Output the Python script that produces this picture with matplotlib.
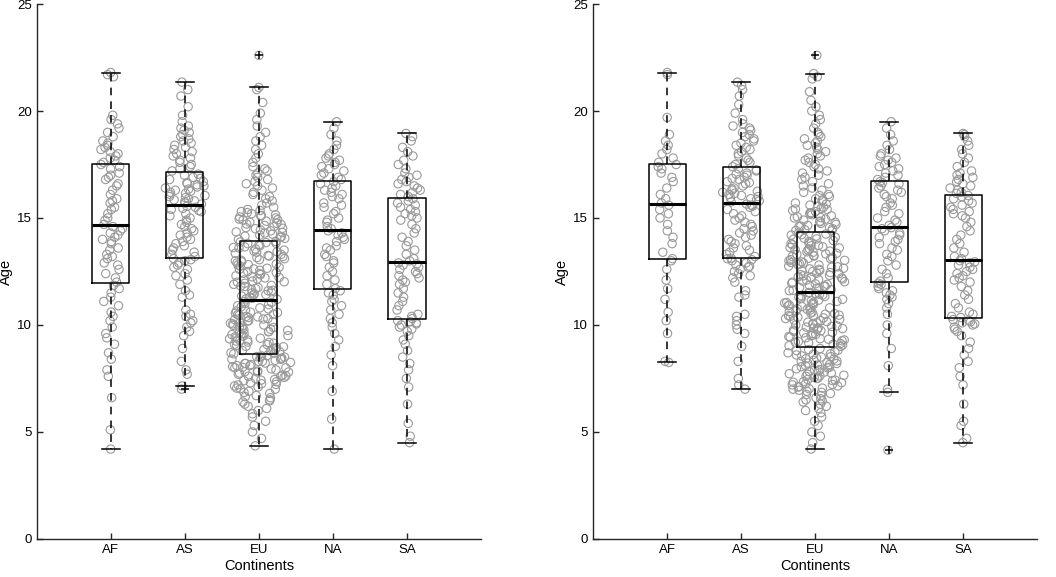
import numpy as np
import matplotlib
matplotlib.use('Agg')
import matplotlib.pyplot as plt

# %%
continents = ['AF', 'AS', 'EU', 'NA', 'SA']

# left panel - ages per continent
left_af = [4.2, 5.1, 6.6, 7.6, 7.9, 8.4, 8.7, 9.1, 9.4, 9.6, 9.9, 10.2, 10.4, 10.6, 10.9, 11.1, 11.3, 11.5, 11.7, 11.85,
           12.0, 12.2, 12.4, 12.6, 12.8, 12.9, 13.1, 13.2, 13.3, 13.5, 13.6, 13.8, 13.9, 14.0, 14.1, 14.2, 14.3, 14.4, 14.5, 14.6,
           14.7, 14.9, 15.0, 15.2, 15.4, 15.5, 15.7, 15.8, 15.9, 16.1, 16.3, 16.5, 16.6, 16.8, 16.9, 17.0, 17.1, 17.3, 17.4, 17.5,
           17.6, 17.7, 17.8, 17.9, 18.0, 18.1, 18.2, 18.3, 18.4, 18.5, 18.6, 18.8, 19.0, 19.2, 19.4, 19.6, 19.8, 21.6, 21.7, 21.8]
left_as = [7.0, 7.15, 7.7, 7.9, 8.3, 8.9, 9.5, 9.7, 9.9, 10.1, 10.2, 10.4, 10.5, 10.7, 11.3, 11.4, 11.6, 11.9, 12.1, 12.3,
           12.4, 12.6, 12.7, 12.8, 12.9, 13.0, 13.05, 13.1,
           13.2, 13.3, 13.4, 13.5, 13.6, 13.7, 13.8, 13.9, 14.0, 14.1, 14.2, 14.3, 14.4, 14.5, 14.6, 14.7, 14.8, 14.9, 15.0, 15.1,
           15.2, 15.3, 15.35, 15.4, 15.45, 15.5, 15.55,
           15.65, 15.7, 15.75, 15.8, 15.85, 15.9, 15.95, 16.0, 16.05, 16.1, 16.15, 16.2, 16.25, 16.3, 16.35, 16.4, 16.45, 16.5,
           16.55, 16.6, 16.65, 16.7, 16.8, 16.85, 16.9, 17.0, 17.05,
           17.2, 17.3, 17.4, 17.5, 17.6, 17.7, 17.8, 17.9, 18.0, 18.1, 18.2, 18.3, 18.4, 18.5, 18.6, 18.7, 18.8, 18.9, 19.0, 19.1,
           19.2, 19.3, 19.5, 19.8, 20.2, 20.7, 21.0, 21.35]
left_eu = [4.35, 4.7, 5.0, 5.3, 5.5, 5.7, 5.85, 6.0, 6.1, 6.2, 6.3, 6.4, 6.45, 6.5, 6.6, 6.65, 6.7, 6.8, 6.85, 6.9,
           7.0, 7.05, 7.1, 7.15, 7.2, 7.25, 7.3, 7.35, 7.4, 7.45, 7.5, 7.55, 7.6, 7.6, 7.65, 7.7, 7.75, 7.8, 7.8, 7.85,
           7.9, 7.95, 8.0, 8.0, 8.05, 8.1, 8.1, 8.15, 8.2, 8.2, 8.25, 8.3, 8.3, 8.35, 8.4, 8.4, 8.45, 8.5, 8.5, 8.55,
           7.02, 7.22, 7.42, 7.62, 7.82, 8.02, 8.22, 8.42, 8.52, 8.57,
           8.65, 8.7, 8.75, 8.8, 8.85, 8.9, 8.95, 9.0, 9.05, 9.1, 9.15, 9.2, 9.25, 9.3, 9.35, 9.4, 9.45, 9.5, 9.55, 9.6,
           9.65, 9.7, 9.75, 9.8, 9.85, 9.9, 9.95, 10.0, 10.05, 10.1, 10.15, 10.2, 10.25, 10.3, 10.35, 10.4, 10.45, 10.5, 10.55, 10.6,
           10.65, 10.7, 10.75, 10.8, 10.85, 10.9, 10.95, 11.0, 11.05, 11.1,
           8.68, 8.88, 9.08, 9.28, 9.48, 9.68, 9.88, 10.08, 10.28, 10.48, 8.78, 8.98, 9.18, 9.38, 9.58, 9.78, 9.98, 10.18, 10.38, 10.58,
           11.2, 11.25, 11.3, 11.35, 11.4, 11.45, 11.5, 11.55, 11.6, 11.65, 11.7, 11.75, 11.8, 11.85, 11.9, 11.95, 12.0, 12.05, 12.1, 12.15,
           12.2, 12.25, 12.3, 12.35, 12.4, 12.45, 12.5, 12.55, 12.6, 12.65, 12.7, 12.75, 12.8, 12.85, 12.9, 12.95, 13.0, 13.05, 13.1, 13.15,
           13.2, 13.25, 13.3, 13.35, 13.4, 13.45, 13.5, 13.55, 13.6, 13.65, 13.7, 13.75, 13.8, 13.85, 13.9,
           11.22, 11.42, 11.62, 11.82, 12.02, 12.22, 12.42, 12.62, 12.82, 13.02, 13.22, 13.42, 13.62, 13.82, 13.88,
           14.0, 14.05, 14.1, 14.15, 14.2, 14.25, 14.3, 14.35, 14.4, 14.45, 14.5, 14.55, 14.6, 14.65, 14.7, 14.75, 14.8, 14.85, 14.9, 14.95,
           15.0, 15.05, 15.1, 15.15, 15.2, 15.25, 15.3, 15.4, 15.5, 15.6, 15.7, 15.8, 15.9, 16.0, 16.1, 16.2, 16.3, 16.4, 16.5, 16.6,
           16.7, 16.8, 16.9, 17.0, 17.1, 17.2, 17.3, 17.4, 17.6, 17.8, 18.0, 18.2, 18.4, 18.6, 18.8, 19.0, 19.3, 19.6, 19.9, 20.4,
           21.0, 21.1, 22.6, 14.12, 14.32, 14.52, 14.72, 14.92, 15.12, 15.35]
left_na = [4.2, 5.6, 6.9, 8.1, 8.6, 9.0, 9.3, 9.6, 9.9, 10.1, 10.3, 10.5, 10.7, 10.9, 11.1, 11.2, 11.4, 11.5, 11.6,
           11.7, 11.9, 12.1, 12.3, 12.5, 12.7, 12.9, 13.0, 13.2, 13.3, 13.5, 13.6, 13.7, 13.9, 14.0, 14.1, 14.2, 14.3, 14.4,
           14.5, 14.6, 14.8, 14.9, 15.0, 15.2, 15.3, 15.5, 15.6, 15.7, 15.9, 16.0, 16.1, 16.2, 16.3, 16.4, 16.5, 16.6, 16.7,
           16.8, 16.9, 17.0, 17.1, 17.2, 17.3, 17.4, 17.5, 17.6, 17.7, 17.8, 17.9, 18.0, 18.2, 18.4, 18.6, 18.9, 19.2, 19.5]
left_sa = [4.5, 4.8, 5.4, 6.3, 7.1, 7.5, 7.9, 8.2, 8.5, 8.8, 9.1, 9.3, 9.5, 9.7, 9.8, 9.9, 10.0, 10.05, 10.1, 10.15, 10.2,
           10.3, 10.4, 10.5, 10.7, 10.9, 11.1, 11.3, 11.5, 11.7, 11.9, 12.0, 12.1, 12.2, 12.3, 12.4, 12.5, 12.6, 12.7, 12.8, 12.85, 12.9,
           13.0, 13.1, 13.3, 13.5, 13.7, 13.9, 14.1, 14.3, 14.5, 14.7, 14.9, 15.0, 15.1, 15.2, 15.3, 15.4, 15.5, 15.6, 15.7, 15.8, 15.9,
           16.0, 16.1, 16.2, 16.3, 16.4, 16.5, 16.6, 16.7, 16.8, 16.9, 17.0, 17.1, 17.3, 17.5, 17.7, 17.9, 18.1, 18.3, 18.6, 18.8, 18.95]

# right panel - ages per continent
right_af = [8.25, 8.3, 9.6, 10.2, 10.6, 11.2, 11.7, 12.1, 12.6, 13.0,
            13.1, 13.4, 13.8, 14.1, 14.4, 14.7, 15.0, 15.2, 15.4, 15.6,
            15.7, 15.9, 16.1, 16.4, 16.7, 16.9, 17.1, 17.3, 17.4, 17.5,
            17.6, 17.8, 18.0, 18.2, 18.4, 18.6, 18.9, 19.7, 21.7, 21.8]
right_as = [7.0, 7.2, 7.5, 8.3, 9.0, 9.6, 9.8, 10.0, 10.2, 10.4, 10.5, 11.3, 11.4, 11.6, 12.0, 12.2, 12.3, 12.4, 12.5, 12.6,
            12.7, 12.75, 12.8, 12.9, 13.0, 13.05, 13.1, 13.12,
            13.2, 13.3, 13.4, 13.5, 13.6, 13.7, 13.8, 13.9, 14.0, 14.1, 14.2, 14.3, 14.4, 14.5, 14.6, 14.7, 14.8, 14.9, 15.0, 15.1,
            15.2, 15.3, 15.4, 15.5, 15.55, 15.6, 15.65,
            15.75, 15.8, 15.85, 15.9, 15.95, 16.0, 16.05, 16.1, 16.15, 16.2, 16.25, 16.3, 16.35, 16.4, 16.5, 16.6, 16.65, 16.7,
            16.8, 16.85, 16.9, 17.0, 17.05, 17.1, 17.2, 17.25, 17.3,
            17.4, 17.5, 17.6, 17.7, 17.8, 17.9, 18.0, 18.1, 18.2, 18.3, 18.4, 18.5, 18.6, 18.7, 18.8, 18.9, 19.0, 19.1, 19.2, 19.3,
            19.4, 19.6, 19.9, 20.3, 20.7, 21.0, 21.2, 21.35]
right_eu = [4.2, 4.5, 4.8, 5.0, 5.3, 5.5, 5.7, 5.9, 6.0, 6.1, 6.2, 6.3, 6.4, 6.5, 6.55, 6.6, 6.7, 6.75, 6.8, 6.9,
            6.95, 7.0, 7.05, 7.1, 7.15, 7.2, 7.25, 7.3, 7.35, 7.4, 7.45, 7.5, 7.55, 7.6, 7.65, 7.7, 7.75, 7.8, 7.85, 7.9,
            7.95, 8.0, 8.05, 8.1, 8.15, 8.2, 8.25, 8.3, 8.35, 8.4, 8.45, 8.5, 8.55, 8.6, 8.65, 8.7, 8.75, 8.8, 8.85, 8.9,
            6.45, 6.85, 7.02, 7.22, 7.42, 7.62, 7.82, 8.02, 8.22, 8.42, 8.62, 8.82, 7.12, 7.32, 7.52, 7.72, 7.92, 8.12, 8.32, 8.52,
            9.0, 9.03, 9.06, 9.1, 9.13, 9.16, 9.2, 9.23, 9.26, 9.3, 9.33, 9.36, 9.4, 9.43, 9.46, 9.5, 9.53, 9.56, 9.6, 9.63,
            9.66, 9.7, 9.73, 9.76, 9.8, 9.83, 9.86, 9.9, 9.93, 9.96, 10.0, 10.03, 10.06, 10.1, 10.13, 10.16, 10.2, 10.23, 10.26, 10.3,
            10.33, 10.36, 10.4, 10.43, 10.46, 10.5, 10.53, 10.56, 10.6, 10.63, 10.66, 10.7, 10.73, 10.76, 10.8, 10.83, 10.86, 10.9, 10.93, 10.96,
            11.0, 11.03, 11.06, 11.1, 11.13, 11.16, 11.2, 11.23, 11.26, 11.3, 11.33, 11.36, 11.4, 11.43, 11.46, 11.5, 11.52, 11.05, 10.45, 9.85,
            11.6, 11.65, 11.7, 11.75, 11.8, 11.85, 11.9, 11.95, 12.0, 12.05, 12.1, 12.15, 12.2, 12.25, 12.3, 12.35, 12.4, 12.45, 12.5, 12.55,
            12.6, 12.65, 12.7, 12.75, 12.8, 12.85, 12.9, 12.95, 13.0, 13.05, 13.1, 13.15, 13.2, 13.25, 13.3, 13.35, 13.4, 13.45, 13.5, 13.55,
            13.6, 13.65, 13.7, 13.75, 13.8, 13.85, 13.9, 13.95, 14.0, 14.05, 14.1, 14.15, 14.2, 14.25, 14.3,
            11.62, 11.82, 12.02, 12.22, 12.42, 12.62, 12.82, 13.02, 13.22, 13.42, 13.62, 13.82, 14.02, 14.22, 11.72, 11.92, 12.12, 12.32,
            12.52, 12.72, 12.92, 13.12, 13.32, 13.52, 13.72,
            14.4, 14.45, 14.5, 14.55, 14.6, 14.65, 14.7, 14.75, 14.8, 14.85, 14.9, 14.95, 15.0, 15.05, 15.1, 15.15, 15.2, 15.25, 15.3, 15.35,
            15.4, 15.45, 15.5, 15.55, 15.6, 15.7, 15.8, 15.9, 16.0, 16.1, 16.2, 16.3, 16.4, 16.5, 16.6, 16.7, 16.8, 16.9, 17.0, 17.1,
            17.2, 17.3, 17.4, 17.5, 17.6, 17.7, 17.8, 17.9, 18.0, 18.1, 18.2, 18.3, 18.4, 18.5, 18.6, 18.7, 18.8, 18.9, 19.0, 19.2,
            19.4, 19.6, 19.8, 20.0, 20.2, 20.5, 20.9, 21.5, 21.6, 21.75, 22.6,
            14.42, 14.62, 14.82, 15.02, 15.22, 15.42, 15.65, 15.85, 16.05]
right_na = [4.15, 6.85, 7.0, 8.1, 8.9, 9.6, 10.0, 10.5, 10.8, 11.0, 11.2, 11.3, 11.4, 11.5, 11.6, 11.7, 11.8, 11.9, 11.95,
            12.05, 12.2, 12.4, 12.6, 12.8, 13.0, 13.2, 13.3, 13.5, 13.6, 13.8, 13.9, 14.0, 14.1, 14.2, 14.3, 14.4, 14.5, 14.55,
            14.65, 14.8, 14.9, 15.0, 15.2, 15.3, 15.5, 15.6, 15.7, 15.9, 16.0, 16.1, 16.2, 16.3, 16.4, 16.5, 16.6, 16.65, 16.7,
            16.8, 16.9, 17.0, 17.1, 17.2, 17.3, 17.4, 17.5, 17.6, 17.7, 17.8, 17.9, 18.0, 18.2, 18.4, 18.6, 18.9, 19.2, 19.5]
right_sa = [4.5, 4.7, 5.3, 5.5, 6.3, 7.2, 7.6, 8.0, 8.3, 8.6, 8.9, 9.2, 9.5, 9.7, 9.8, 9.9, 10.0, 10.05, 10.1, 10.15, 10.2, 10.25,
            10.35, 10.4, 10.5, 10.6, 10.8, 11.0, 11.2, 11.4, 11.6, 11.8, 12.0, 12.1, 12.2, 12.3, 12.4, 12.5, 12.6, 12.7, 12.8, 12.9, 12.95, 13.0,
            13.1, 13.2, 13.4, 13.6, 13.8, 14.0, 14.2, 14.4, 14.6, 14.8, 15.0, 15.1, 15.2, 15.3, 15.4, 15.5, 15.6, 15.7, 15.8, 15.9, 16.0, 16.05,
            16.15, 16.2, 16.3, 16.4, 16.5, 16.6, 16.7, 16.8, 16.9, 17.0, 17.1, 17.2, 17.4, 17.6, 17.8, 18.0, 18.2, 18.4, 18.6, 18.8, 18.9, 18.95]

left_groups = [left_af, left_as, left_eu, left_na, left_sa]
right_groups = [right_af, right_as, right_eu, right_na, right_sa]

# %%
plt.rcParams['font.family'] = ['Liberation Sans', 'DejaVu Sans']

GRAY = '#9a9a9a'
AX_COLOR = '#262626'


def jitter(vals, seed):
    # sideways spread (hash-like, fixed), wider where values are crowded
    v = np.asarray(vals, dtype=float)
    k = np.arange(len(v)) + seed * 1000
    u = (np.sin(k * 12.9898 + 78.233) * 43758.5453) % 1.0 * 2 - 1
    counts = np.array([np.sum(np.abs(v - y) < 0.75) for y in v])
    hw = np.minimum(0.52, 0.024 * counts ** 0.75)
    return u * hw


def draw_panel(ax, groups, pid):
    for i, g in enumerate(groups):
        ax.scatter(i + 1 + jitter(g, pid * 10 + i), g, s=36, facecolors='none', edgecolors=GRAY,
                   linewidths=0.8, zorder=1)
    ax.boxplot(groups, positions=range(1, 6), widths=0.5, whis=1.5,
               patch_artist=False, manage_ticks=False, zorder=3,
               boxprops=dict(color='black', linewidth=1.1),
               medianprops=dict(color='black', linewidth=2.2),
               whiskerprops=dict(color='black', linewidth=1.1, linestyle=(0, (5, 4))),
               capprops=dict(color='black', linewidth=1.1),
               capwidths=0.25,
               flierprops=dict(marker='+', markeredgecolor='black', markersize=6,
                               markeredgewidth=1.1))
    ax.set_xlim(0, 6)
    ax.set_ylim(0, 25)
    ax.set_xticks(range(1, 6))
    ax.set_xticklabels(continents)
    ax.set_yticks(range(0, 26, 5))
    ax.spines['top'].set_visible(False)
    ax.spines['right'].set_visible(False)
    for s in ['left', 'bottom']:
        ax.spines[s].set_color(AX_COLOR)
        ax.spines[s].set_linewidth(1.0)
    ax.tick_params(direction='in', length=4, width=1, colors=AX_COLOR,
                   labelsize=9.5, labelcolor='black')
    ax.set_xlabel('Continents', fontsize=10.5, labelpad=2)
    ax.set_ylabel('Age', fontsize=10.5, labelpad=3)


fig = plt.figure(figsize=(10.56, 5.77), dpi=100)
ax1 = fig.add_axes([0.035, 0.066, 0.4205, 0.927])
ax2 = fig.add_axes([0.5616, 0.066, 0.4205, 0.927])
draw_panel(ax1, left_groups, 1)
draw_panel(ax2, right_groups, 2)

plt.savefig('out.png', dpi=100)
